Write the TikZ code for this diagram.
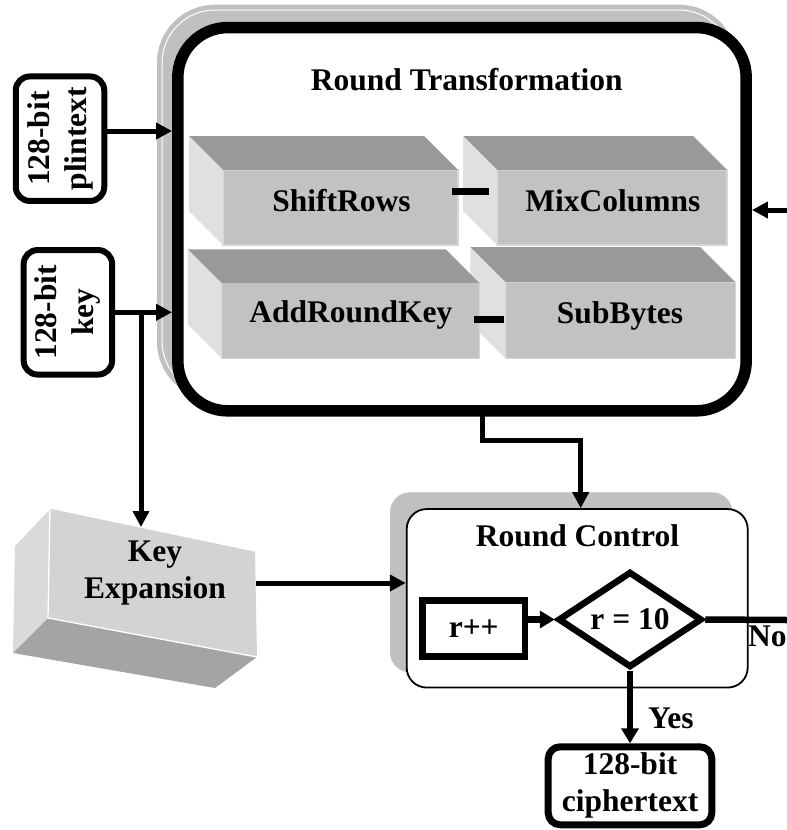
\documentclass[tikz,border=0pt]{standalone}
\usepackage{fontspec}
\setmainfont{Liberation Serif}
\usetikzlibrary{arrows.meta,shapes.geometric,calc}

\definecolor{shadowgray}{HTML}{C0C0C0}
\definecolor{topgray}{HTML}{999999}
\definecolor{frontgray}{HTML}{C2C2C2}
\definecolor{sidegray}{HTML}{E0E0E0}
\definecolor{edgegray}{HTML}{D6D6D6}
\definecolor{kefront}{HTML}{D3D3D3}
\definecolor{keside}{HTML}{DADADA}
\definecolor{kebottom}{HTML}{A4A4A4}

% 3D block: front face node plus top and left faces
% #1 name, #2 cx, #3 cy, #4 width, #5 height, #6 depth
\newcommand{\cubeblock}[6]{%
  \node[face, minimum width=#4pt, minimum height=#5pt] (#1) at (#2,#3) {};
  \fill[topgray] (#1.north west) -- ++(-#6,-#6) -- ($(#1.north east)+(-#6,-#6)$) -- (#1.north east) -- cycle;
  \fill[sidegray] (#1.north west) -- ++(-#6,-#6) -- ($(#1.south west)+(-#6,-#6)$) -- (#1.south west) -- cycle;
}

\begin{document}
\begin{tikzpicture}[x=1pt,y=-1pt,
  every node/.style={font=\fontsize{31.5}{37}\selectfont\bfseries, inner sep=0pt},
  face/.style={fill=frontgray, draw=edgegray, line width=1.2pt, outer sep=0pt},
  conn/.style={line width=5pt, -{Triangle[length=16pt,width=16pt]}},
  connthick/.style={line width=6.5pt, -{Triangle[length=15pt,width=17pt]}},
  plainthick/.style={line width=6.5pt},
  bar/.style={line width=7pt},
  inbox/.style={draw, line width=6pt, rounded corners=14pt, rotate=90, align=center,
                minimum width=124.5pt, minimum height=88.5pt},
]
\useasboundingbox (0,0) rectangle (787,830);
\fill[white] (0,0) rectangle (787,830);

% ---------- Round Transformation ----------
\fill[shadowgray, rounded corners=58pt] (157,4.7) rectangle (737,399.7);
\draw[white, line width=1pt, rounded corners=53pt] (162,10) rectangle (732,394);
\node[draw, line width=11.5pt, rounded corners=50pt, fill=white,
      minimum width=568.4pt, minimum height=383.3pt] (rt) at (462,219.2) {};
\node[anchor=base] (rtT) at (466.8,90) {Round Transformation};

% right column first, left column overlaps it
\cubeblock{mc}{612}{207.5}{230}{75}{34}
\cubeblock{sb}{620.3}{320.2}{230}{76}{35}
\cubeblock{sr}{340.5}{207.5}{235}{75}{34}
\cubeblock{ark}{350.7}{320.8}{258}{75}{34}

\node[anchor=base] (srT)  at (341.5,211.7) {ShiftRows};
\node[anchor=base] (mcT)  at (612.8,211.7) {MixColumns};
\node[anchor=base] (arkT) at (350.8,322.7) {AddRoundKey};
\node[anchor=base] (sbT)  at (620,323.3) {SubBytes};

\coordinate (d1a) at (451.7,191.7);
\coordinate (d1b) at (489.3,191.7);
\coordinate (d2a) at (473.7,319.3);
\coordinate (d2b) at (503.7,319.3);
\draw[bar] (d1a) -- (d1b);
\draw[bar] (d2a) -- (d2b);

% ---------- inputs ----------
\node[inbox] (pt) at (60,138.7) {128-bit\\plintext};
\node[inbox] (key) at (67.9,312.3) {128-bit\\key};

\draw[conn] (pt.south |- 0,131) -- (rt.west |- 0,131);
\draw[conn] (key.south) -- (rt.west |- key.south);

\coordinate (loopIn) at (787,210);
\draw[conn] (loopIn) -- (rt.east |- loopIn);

% ---------- Key Expansion ----------
\fill[keside]   (15,545) -- (50,508) -- (48,618) -- (13,653) -- cycle;
\fill[kefront]  (50,508) -- (255,551) -- (257,657) -- (48,618) -- cycle;
\fill[kebottom] (13,653) -- (48,618) -- (257,657) -- (215,688) -- cycle;
\draw[white, line width=1.3pt] (15,545) -- (50,508) -- (255,551);
\draw[white, line width=1.3pt] (50,508) -- (48,618) -- (257,657);
\node[align=center] (ke) at (155,573.2) {Key\\Expansion};

\coordinate (kb) at (141,0 |- key.south);
\coordinate (keTop) at (141,527);
\draw[conn] (kb) -- (keTop);

% ---------- Round Control ----------
\fill[shadowgray, rounded corners=20pt] (390,492.3) rectangle (732.3,672.3);
\node[draw, line width=1.8pt, rounded corners=20pt, fill=white,
      minimum width=341pt, minimum height=178.5pt] (rc) at (577.2,598.3) {};
\node[anchor=base] (rcT) at (577.5,546.7) {Round Control};

\node[draw, line width=6.5pt, minimum width=102.3pt, minimum height=56.3pt] (rpp) at (473.7,628.4) {r++};
\node[draw, diamond, aspect=1.5, line width=6.5pt, minimum width=144pt, minimum height=96pt] (dia) at (630,619.5) {r = 10};

\node[draw, line width=7pt, rounded corners=12pt, align=center,
      minimum width=163.6pt, minimum height=78pt] (ct) at (630,785.8) {128-bit\\ciphertext};

\coordinate (keR) at (256,583);
\draw[conn] (keR) -- (rc.west |- keR);

\coordinate (rtb) at (482,411);
\coordinate (jog) at (580.7,440);
\draw[conn] (rtb) |- (jog) -- (rc.north -| jog);

\draw[connthick] (rpp.east |- dia.west) -- (dia.west);

\coordinate (loopOut) at (787,620);
\draw[plainthick] (dia.east) -- (loopOut);
\node[anchor=base west] (noL) at (748,646.7) {No};

\draw[connthick] (dia.south) -- (ct.north);
\node[anchor=base west] (yesL) at (648,728.3) {Yes};
\end{tikzpicture}
\end{document}
